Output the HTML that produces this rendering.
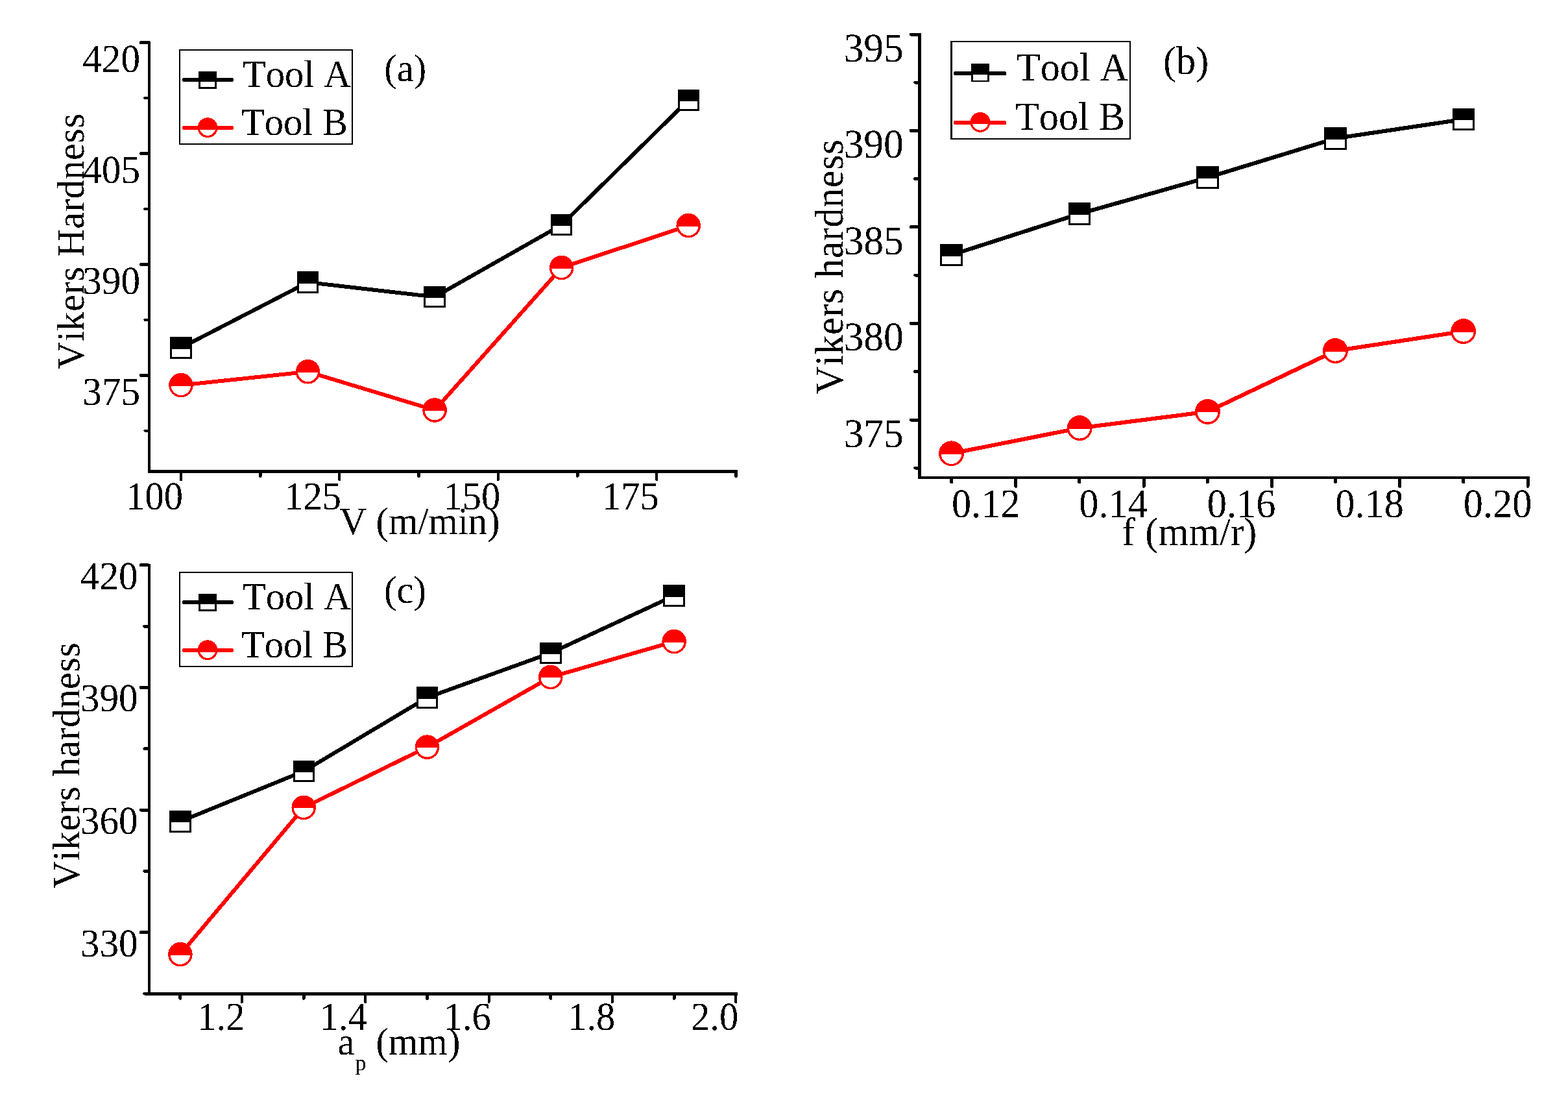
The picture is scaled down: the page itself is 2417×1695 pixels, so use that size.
<!DOCTYPE html>
<html lang="en">
<head>
<meta charset="utf-8">
<title>Vikers hardness vs cutting parameters</title>
<style>
html,body{margin:0;padding:0;background:#fff}
body{width:2417px;height:1695px;overflow:hidden}
svg{display:block}
text{white-space:pre;font-kerning:none;font-variant-ligatures:none;text-rendering:geometricPrecision}
</style>
</head>
<body>
<svg width="2417" height="1695" viewBox="0 0 2417 1695" font-family='"Liberation Serif", "DejaVu Serif", serif' fill="#000" shape-rendering="crispEdges">
<rect width="2417" height="1695" fill="#fff"/>
<defs><filter id="bilevel" filterUnits="userSpaceOnUse" x="0" y="0" width="2417" height="1695" color-interpolation-filters="sRGB"><feComponentTransfer><feFuncA type="discrete" tableValues="0 1"/></feComponentTransfer></filter></defs>
<g id="panel-a">
<g stroke="#000" stroke-linecap="butt" fill="none">
<path d="M230.1 63.6 V728.85" stroke-width="3.9"/>
<path d="M228.15 726.5 H1136.7" stroke-width="4.7"/>
</g>
<g stroke="#000" stroke-width="4" stroke-linecap="round" fill="none">
<path d="M229.1 65.6 h-11.8" stroke-width="5"/>
<path d="M229.1 236.5 h-11.8" stroke-width="5"/>
<path d="M229.1 407.5 h-11.8" stroke-width="5"/>
<path d="M229.1 578.3 h-11.8" stroke-width="5"/>
<path d="M229.1 151.0 h-5.8"/>
<path d="M229.1 321.9 h-5.8"/>
<path d="M229.1 492.8 h-5.8"/>
<path d="M229.1 663.7 h-5.8"/>
<path d="M279 727.5 v11.8"/>
<path d="M523.4 727.5 v11.8"/>
<path d="M767.9 727.5 v11.8"/>
<path d="M1012.3 727.5 v11.8"/>
<path d="M401.2 727.5 v5.8" stroke-width="5"/>
<path d="M645.7 727.5 v5.8" stroke-width="5"/>
<path d="M890.1 727.5 v5.8" stroke-width="5"/>
<path d="M1134.5 727.5 v5.8" stroke-width="5"/>
</g>
<path d="M279.0 535.9 L474.5 435.0 L670.1 457.5 L865.6 346.6 L1061.2 154.2" fill="none" stroke="#000" stroke-width="6.0" stroke-linejoin="round" stroke-linecap="round"/>
<path d="M279.0 593.6 L474.5 572.8 L670.1 632.0 L865.6 412.5 L1061.2 347.6" fill="none" stroke="#ff0000" stroke-width="6.0" stroke-linejoin="round" stroke-linecap="round"/>
<rect x="263.80" y="520.70" width="30.40" height="30.40" fill="#fff" stroke="#000" stroke-width="3.0"/>
<rect x="262.30" y="519.20" width="33.40" height="18.30" fill="#000"/>
<rect x="459.30" y="419.80" width="30.40" height="30.40" fill="#fff" stroke="#000" stroke-width="3.0"/>
<rect x="457.80" y="418.30" width="33.40" height="18.30" fill="#000"/>
<rect x="654.90" y="442.30" width="30.40" height="30.40" fill="#fff" stroke="#000" stroke-width="3.0"/>
<rect x="653.40" y="440.80" width="33.40" height="18.30" fill="#000"/>
<rect x="850.40" y="331.40" width="30.40" height="30.40" fill="#fff" stroke="#000" stroke-width="3.0"/>
<rect x="848.90" y="329.90" width="33.40" height="18.30" fill="#000"/>
<rect x="1046.00" y="139.00" width="30.40" height="30.40" fill="#fff" stroke="#000" stroke-width="3.0"/>
<rect x="1044.50" y="137.50" width="33.40" height="18.30" fill="#000"/>
<circle cx="279.00" cy="593.60" r="17.05" fill="#fff" stroke="#ff0000" stroke-width="3.4"/>
<path d="M260.28 594.60 A18.75 18.75 0 1 1 297.72 594.60 Z" fill="#ff0000"/>
<circle cx="474.50" cy="572.80" r="17.05" fill="#fff" stroke="#ff0000" stroke-width="3.4"/>
<path d="M455.78 573.80 A18.75 18.75 0 1 1 493.22 573.80 Z" fill="#ff0000"/>
<circle cx="670.10" cy="632.00" r="17.05" fill="#fff" stroke="#ff0000" stroke-width="3.4"/>
<path d="M651.38 633.00 A18.75 18.75 0 1 1 688.82 633.00 Z" fill="#ff0000"/>
<circle cx="865.60" cy="412.50" r="17.05" fill="#fff" stroke="#ff0000" stroke-width="3.4"/>
<path d="M846.88 413.50 A18.75 18.75 0 1 1 884.32 413.50 Z" fill="#ff0000"/>
<circle cx="1061.20" cy="347.60" r="17.05" fill="#fff" stroke="#ff0000" stroke-width="3.4"/>
<path d="M1042.48 348.60 A18.75 18.75 0 1 1 1079.92 348.60 Z" fill="#ff0000"/>
<rect x="277.2" y="77" width="265.8" height="144.7" fill="#fff" stroke="#000" stroke-width="2.2"/>
<path d="M284 123 H357" stroke="#000" stroke-width="6.0" stroke-linecap="round"/>
<rect x="307.60" y="111.10" width="24.80" height="24.80" fill="#fff" stroke="#000" stroke-width="2.8"/>
<rect x="306.20" y="109.70" width="27.60" height="16.10" fill="#000"/>
<path d="M284 197 H357" stroke="#ff0000" stroke-width="6.0" stroke-linecap="round"/>
<circle cx="320.00" cy="196.70" r="13.80" fill="#fff" stroke="#ff0000" stroke-width="3.2"/>
<path d="M304.90 199.70 A15.40 15.40 0 1 1 335.10 199.70 Z" fill="#ff0000"/>
</g>
<g id="panel-b">
<g stroke="#000" stroke-linecap="butt" fill="none">
<path d="M1417.5 50.7 V738.0" stroke-width="5"/>
<path d="M1415.0 736.0 H2357.5" stroke-width="4"/>
</g>
<g stroke="#000" stroke-width="5" stroke-linecap="round" fill="none">
<path d="M1416.5 53.1 h-12.2"/>
<path d="M1416.5 201.4 h-12.2"/>
<path d="M1416.5 349.8 h-12.2"/>
<path d="M1416.5 498.3 h-12.2"/>
<path d="M1416.5 647.0 h-12.2"/>
<path d="M1416.5 127 h-5.8"/>
<path d="M1416.5 275.5 h-5.8"/>
<path d="M1416.5 424 h-5.8"/>
<path d="M1416.5 572.5 h-5.8"/>
<path d="M1416.5 721 h-5.8"/>
<path d="M1565.8 737.0 v12.2"/>
<path d="M1763.1 737.0 v12.2"/>
<path d="M1960.4 737.0 v12.2"/>
<path d="M2157.7 737.0 v12.2"/>
<path d="M2355 737.0 v12.2"/>
<path d="M1466.6 737.0 v5.8"/>
<path d="M1663.9 737.0 v5.8"/>
<path d="M1861.2 737.0 v5.8"/>
<path d="M2058.5 737.0 v5.8"/>
<path d="M2255.8 737.0 v5.8"/>
</g>
<path d="M1466.5 392.9 L1664.0 329.4 L1861.7 273.5 L2058.7 213.2 L2256.1 183.8" fill="none" stroke="#000" stroke-width="6.2" stroke-linejoin="round" stroke-linecap="round"/>
<path d="M1466.5 698.8 L1664.2 659.6 L1861.5 634.4 L2058.4 540.6 L2255.7 510.6" fill="none" stroke="#ff0000" stroke-width="6.2" stroke-linejoin="round" stroke-linecap="round"/>
<rect x="1450.70" y="377.10" width="31.60" height="31.60" fill="#fff" stroke="#000" stroke-width="3.0"/>
<rect x="1449.20" y="375.60" width="34.60" height="18.90" fill="#000"/>
<rect x="1648.20" y="313.60" width="31.60" height="31.60" fill="#fff" stroke="#000" stroke-width="3.0"/>
<rect x="1646.70" y="312.10" width="34.60" height="18.90" fill="#000"/>
<rect x="1845.90" y="257.70" width="31.60" height="31.60" fill="#fff" stroke="#000" stroke-width="3.0"/>
<rect x="1844.40" y="256.20" width="34.60" height="18.90" fill="#000"/>
<rect x="2042.90" y="197.40" width="31.60" height="31.60" fill="#fff" stroke="#000" stroke-width="3.0"/>
<rect x="2041.40" y="195.90" width="34.60" height="18.90" fill="#000"/>
<rect x="2240.30" y="168.00" width="31.60" height="31.60" fill="#fff" stroke="#000" stroke-width="3.0"/>
<rect x="2238.80" y="166.50" width="34.60" height="18.90" fill="#000"/>
<circle cx="1466.50" cy="698.80" r="17.70" fill="#fff" stroke="#ff0000" stroke-width="3.4"/>
<path d="M1447.13 699.80 A19.40 19.40 0 1 1 1485.87 699.80 Z" fill="#ff0000"/>
<circle cx="1664.20" cy="659.60" r="17.70" fill="#fff" stroke="#ff0000" stroke-width="3.4"/>
<path d="M1644.83 660.60 A19.40 19.40 0 1 1 1683.57 660.60 Z" fill="#ff0000"/>
<circle cx="1861.50" cy="634.40" r="17.70" fill="#fff" stroke="#ff0000" stroke-width="3.4"/>
<path d="M1842.13 635.40 A19.40 19.40 0 1 1 1880.87 635.40 Z" fill="#ff0000"/>
<circle cx="2058.40" cy="540.60" r="17.70" fill="#fff" stroke="#ff0000" stroke-width="3.4"/>
<path d="M2039.03 541.60 A19.40 19.40 0 1 1 2077.77 541.60 Z" fill="#ff0000"/>
<circle cx="2255.70" cy="510.60" r="17.70" fill="#fff" stroke="#ff0000" stroke-width="3.4"/>
<path d="M2236.33 511.60 A19.40 19.40 0 1 1 2275.07 511.60 Z" fill="#ff0000"/>
<rect x="1466.4" y="64.2" width="275.4" height="150" fill="#fff" stroke="#000" stroke-width="2.2"/>
<path d="M1473.2 113.2 H1548.4" stroke="#000" stroke-width="6.2" stroke-linecap="round"/>
<rect x="1498.30" y="99.50" width="25.40" height="25.40" fill="#fff" stroke="#000" stroke-width="2.8"/>
<rect x="1496.90" y="98.10" width="28.20" height="16.40" fill="#000"/>
<path d="M1473.2 189.1 H1548.4" stroke="#ff0000" stroke-width="6.2" stroke-linecap="round"/>
<circle cx="1511.00" cy="188.40" r="13.80" fill="#fff" stroke="#ff0000" stroke-width="3.2"/>
<path d="M1495.90 191.40 A15.40 15.40 0 1 1 1526.10 191.40 Z" fill="#ff0000"/>
</g>
<g id="panel-c">
<g stroke="#000" stroke-linecap="butt" fill="none">
<path d="M229.7 868.6 V1533.75" stroke-width="3.9"/>
<path d="M227.75 1531.4 H1136.8" stroke-width="4.7"/>
</g>
<g stroke="#000" stroke-width="4" stroke-linecap="round" fill="none">
<path d="M228.7 870.9 h-11.6" stroke-width="5"/>
<path d="M228.7 1059.4 h-11.6" stroke-width="5"/>
<path d="M228.7 1248.0 h-11.6" stroke-width="5"/>
<path d="M228.7 1436.6 h-11.6" stroke-width="5"/>
<path d="M228.7 965.2 h-5.8" stroke-width="5"/>
<path d="M228.7 1153.7 h-5.8" stroke-width="5"/>
<path d="M228.7 1342.3 h-5.8" stroke-width="5"/>
<path d="M228.7 1531.0 h-5.8" stroke-width="5"/>
<path d="M373.0 1532.4 v11.6"/>
<path d="M563.3 1532.4 v11.6"/>
<path d="M753.6 1532.4 v11.6"/>
<path d="M943.9 1532.4 v11.6"/>
<path d="M1134.2 1532.4 v11.6"/>
<path d="M277.9 1532.4 v5.8" stroke-width="5"/>
<path d="M468.2 1532.4 v5.8" stroke-width="5"/>
<path d="M658.5 1532.4 v5.8" stroke-width="5"/>
<path d="M848.8 1532.4 v5.8" stroke-width="5"/>
<path d="M1039.1 1532.4 v5.8" stroke-width="5"/>
</g>
<path d="M277.9 1265.8 L468.2 1188.4 L658.5 1074.9 L848.8 1006.2 L1039.1 918.0" fill="none" stroke="#000" stroke-width="6.0" stroke-linejoin="round" stroke-linecap="round"/>
<path d="M277.9 1470.6 L468.2 1244.4 L658.5 1151.2 L848.8 1043.4 L1039.1 988.6" fill="none" stroke="#ff0000" stroke-width="6.0" stroke-linejoin="round" stroke-linecap="round"/>
<rect x="262.70" y="1250.60" width="30.40" height="30.40" fill="#fff" stroke="#000" stroke-width="3.0"/>
<rect x="261.20" y="1249.10" width="33.40" height="18.30" fill="#000"/>
<rect x="453.00" y="1173.20" width="30.40" height="30.40" fill="#fff" stroke="#000" stroke-width="3.0"/>
<rect x="451.50" y="1171.70" width="33.40" height="18.30" fill="#000"/>
<rect x="643.30" y="1059.70" width="30.40" height="30.40" fill="#fff" stroke="#000" stroke-width="3.0"/>
<rect x="641.80" y="1058.20" width="33.40" height="18.30" fill="#000"/>
<rect x="833.60" y="991.00" width="30.40" height="30.40" fill="#fff" stroke="#000" stroke-width="3.0"/>
<rect x="832.10" y="989.50" width="33.40" height="18.30" fill="#000"/>
<rect x="1023.90" y="902.80" width="30.40" height="30.40" fill="#fff" stroke="#000" stroke-width="3.0"/>
<rect x="1022.40" y="901.30" width="33.40" height="18.30" fill="#000"/>
<circle cx="277.90" cy="1470.60" r="17.05" fill="#fff" stroke="#ff0000" stroke-width="3.4"/>
<path d="M259.18 1471.60 A18.75 18.75 0 1 1 296.62 1471.60 Z" fill="#ff0000"/>
<circle cx="468.20" cy="1244.40" r="17.05" fill="#fff" stroke="#ff0000" stroke-width="3.4"/>
<path d="M449.48 1245.40 A18.75 18.75 0 1 1 486.92 1245.40 Z" fill="#ff0000"/>
<circle cx="658.50" cy="1151.20" r="17.05" fill="#fff" stroke="#ff0000" stroke-width="3.4"/>
<path d="M639.78 1152.20 A18.75 18.75 0 1 1 677.22 1152.20 Z" fill="#ff0000"/>
<circle cx="848.80" cy="1043.40" r="17.05" fill="#fff" stroke="#ff0000" stroke-width="3.4"/>
<path d="M830.08 1044.40 A18.75 18.75 0 1 1 867.52 1044.40 Z" fill="#ff0000"/>
<circle cx="1039.10" cy="988.60" r="17.05" fill="#fff" stroke="#ff0000" stroke-width="3.4"/>
<path d="M1020.38 989.60 A18.75 18.75 0 1 1 1057.82 989.60 Z" fill="#ff0000"/>
<rect x="277.2" y="882" width="265.8" height="144.7" fill="#fff" stroke="#000" stroke-width="2.2"/>
<path d="M284 928 H357" stroke="#000" stroke-width="6.0" stroke-linecap="round"/>
<rect x="307.60" y="916.10" width="24.80" height="24.80" fill="#fff" stroke="#000" stroke-width="2.8"/>
<rect x="306.20" y="914.70" width="27.60" height="16.10" fill="#000"/>
<path d="M284 1002 H357" stroke="#ff0000" stroke-width="6.0" stroke-linecap="round"/>
<circle cx="320.00" cy="1001.70" r="13.80" fill="#fff" stroke="#ff0000" stroke-width="3.2"/>
<path d="M304.90 1004.70 A15.40 15.40 0 1 1 335.10 1004.70 Z" fill="#ff0000"/>
</g>
<g id="labels" filter="url(#bilevel)">
<text transform="translate(216.0 111.0) scale(1 1.035)" font-size="59.2" text-anchor="end">420</text>
<text transform="translate(216.0 281.9) scale(1 1.035)" font-size="59.2" text-anchor="end">405</text>
<text transform="translate(216.0 452.9) scale(1 1.035)" font-size="59.2" text-anchor="end">390</text>
<text transform="translate(216.0 623.7) scale(1 1.035)" font-size="59.2" text-anchor="end">375</text>
<text transform="translate(281.9 784.8) scale(1 1.045)" font-size="58.5" text-anchor="end">100</text>
<text transform="translate(525.9 784.8) scale(1 1.045)" font-size="58.5" text-anchor="end">125</text>
<text transform="translate(771.3 784.8) scale(1 1.045)" font-size="58.5" text-anchor="end">150</text>
<text transform="translate(1015.8 784.8) scale(1 1.045)" font-size="58.5" text-anchor="end">175</text>
<text transform="translate(523.0 823.3) scale(1 1.02)" font-size="58.5" text-anchor="start" letter-spacing="-0.15">V (m/min)</text>
<text transform="translate(128.8 569) rotate(-90) scale(1 1.02)" font-size="58.5" text-anchor="start" letter-spacing="0.43">Vikers Hardness</text>
<text transform="translate(592.3 124.5) scale(1 1.02)" font-size="58.5" text-anchor="start">(a)</text>
<text transform="translate(373.9 133.7) scale(1 1.02)" font-size="58.5" text-anchor="start">Tool A</text>
<text transform="translate(372 208) scale(1 1.02)" font-size="58.5" text-anchor="start">Tool B</text>
<text transform="translate(1392.8 95.0) scale(1 1.025)" font-size="61.6" text-anchor="end">395</text>
<text transform="translate(1392.8 243.3) scale(1 1.025)" font-size="61.6" text-anchor="end">390</text>
<text transform="translate(1392.8 391.7) scale(1 1.025)" font-size="61.6" text-anchor="end">385</text>
<text transform="translate(1392.8 540.2) scale(1 1.025)" font-size="61.6" text-anchor="end">380</text>
<text transform="translate(1392.8 688.9) scale(1 1.025)" font-size="61.6" text-anchor="end">375</text>
<text transform="translate(1572.5 797.2) scale(1 1.04)" font-size="60.3" text-anchor="end">0.12</text>
<text transform="translate(1768.8 797.2) scale(1 1.04)" font-size="60.3" text-anchor="end">0.14</text>
<text transform="translate(1966.3 797.2) scale(1 1.04)" font-size="60.3" text-anchor="end">0.16</text>
<text transform="translate(2163.8 797.2) scale(1 1.04)" font-size="60.3" text-anchor="end">0.18</text>
<text transform="translate(2361.3 797.2) scale(1 1.04)" font-size="60.3" text-anchor="end">0.20</text>
<text transform="translate(1729.6 840.2) scale(1 1.02)" font-size="60.3" text-anchor="start" letter-spacing="0.25">f (mm/r)</text>
<text transform="translate(1298.5 607.8) rotate(-90) scale(1 1.02)" font-size="60.3" text-anchor="start" letter-spacing="0.45">Vikers hardness</text>
<text transform="translate(1793 113.8) scale(1 1.02)" font-size="60.3" text-anchor="start">(b)</text>
<text transform="translate(1566.8 124.3) scale(1 1.02)" font-size="60.3" text-anchor="start">Tool A</text>
<text transform="translate(1564.9 199.8) scale(1 1.02)" font-size="60.3" text-anchor="start">Tool B</text>
<text transform="translate(212.6 907.8) scale(1 1.035)" font-size="59.2" text-anchor="end">420</text>
<text transform="translate(212.6 1096.3) scale(1 1.035)" font-size="59.2" text-anchor="end">390</text>
<text transform="translate(212.6 1284.9) scale(1 1.035)" font-size="59.2" text-anchor="end">360</text>
<text transform="translate(212.6 1473.5) scale(1 1.035)" font-size="59.2" text-anchor="end">330</text>
<text transform="translate(377.4 1586.6) scale(1 1.045)" font-size="58.5" text-anchor="end">1.2</text>
<text transform="translate(565.8 1586.6) scale(1 1.045)" font-size="58.5" text-anchor="end">1.4</text>
<text transform="translate(756.8 1586.6) scale(1 1.045)" font-size="58.5" text-anchor="end">1.6</text>
<text transform="translate(948.3 1586.6) scale(1 1.045)" font-size="58.5" text-anchor="end">1.8</text>
<text transform="translate(1138.2 1586.6) scale(1 1.045)" font-size="58.5" text-anchor="end">2.0</text>
<text transform="translate(520.5 1625.4) scale(1 1.02)" font-size="58.5" text-anchor="start">a<tspan font-size="34" dy="23" dx="1">p</tspan><tspan dy="-23" dx="0.3"> (mm)</tspan></text>
<text transform="translate(122.4 1369.1) rotate(-90) scale(1 1.02)" font-size="58.5" text-anchor="start" letter-spacing="0.26">Vikers hardness</text>
<text transform="translate(592 929) scale(1 1.02)" font-size="58.5" text-anchor="start">(c)</text>
<text transform="translate(373.9 938.7) scale(1 1.02)" font-size="58.5" text-anchor="start">Tool A</text>
<text transform="translate(372 1013) scale(1 1.02)" font-size="58.5" text-anchor="start">Tool B</text>
</g>
</svg>
</body>
</html>
